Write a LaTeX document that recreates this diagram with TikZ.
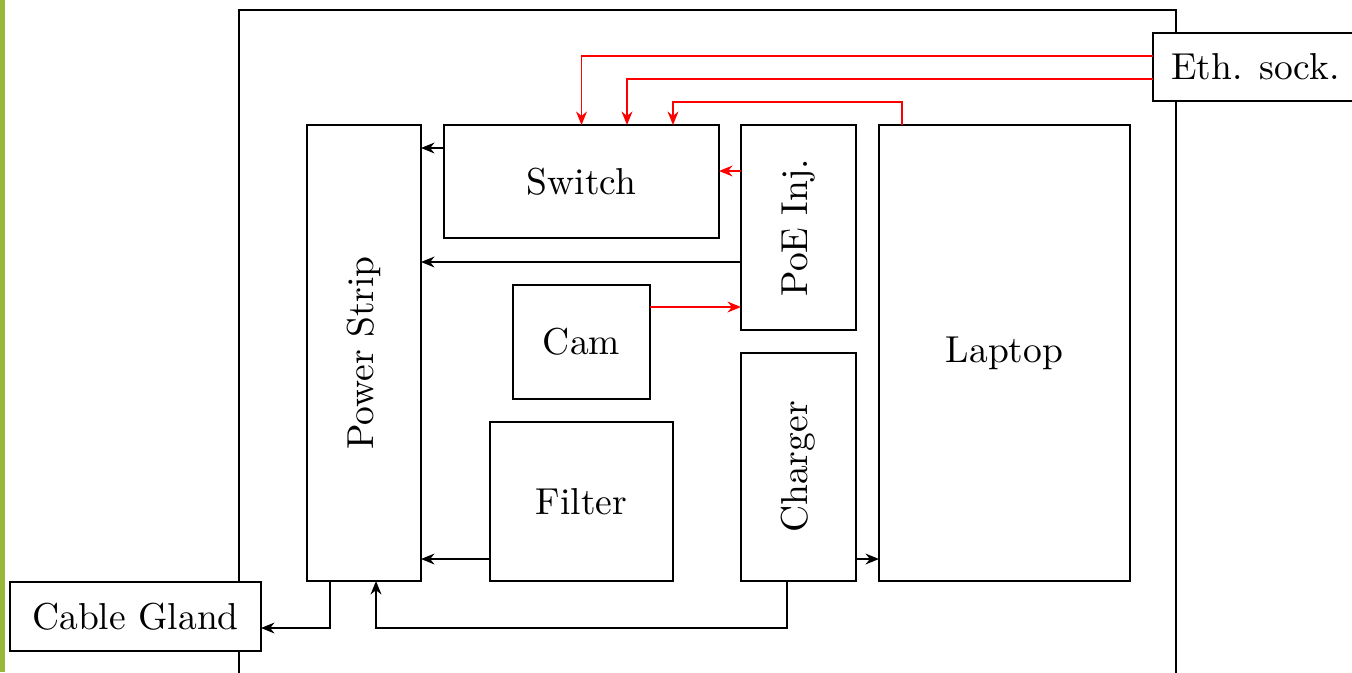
\documentclass[tikz,border=0pt]{standalone}
\usepackage{graphicx}
\usetikzlibrary{arrows.meta}
\definecolor{barg}{RGB}{153,184,58}
\def\pxu{0.2667pt}
\begin{document}
\begin{tikzpicture}[x=0.2667pt, y=-0.2667pt,
  box/.style={draw, inner sep=0pt, outer sep=0pt},
  arr/.style={-{Stealth[length=3.6pt,width=2.9pt]}},
  rarr/.style={-{Stealth[length=3.6pt,width=2.9pt]}, red}]
\useasboundingbox (0,0) rectangle (1352,672);
\clip (0,0) rectangle (1352,672);
\fill[barg] (0,0) rectangle (5,672);
\draw (239,10) rectangle (1176,720);
\node[box, minimum width=114*\pxu, minimum height=456*\pxu] (ps) at (364,353) {\rotatebox{90}{Power Strip}};
\node[box, minimum width=275*\pxu, minimum height=113*\pxu] (sw) at (581.5,181.5) {Switch};
\node[box, minimum width=115*\pxu, minimum height=205*\pxu] (poe) at (798.5,227.5) {\rotatebox{90}{PoE Inj.}};
\node[box, minimum width=251*\pxu, minimum height=456*\pxu] (lap) at (1004.5,353) {Laptop};
\node[box, minimum width=137*\pxu, minimum height=114*\pxu] (cam) at (581.5,342) {Cam};
\node[box, minimum width=183*\pxu, minimum height=159*\pxu] (fil) at (581.5,501.5) {Filter};
\node[box, minimum width=115*\pxu, minimum height=228*\pxu] (chg) at (798.5,467) {\rotatebox{90}{Charger}};
\node[box, fill=white, minimum width=251*\pxu, minimum height=69*\pxu] (cg) at (135.5,616.5) {Cable Gland};
\node[box, fill=white, minimum width=205*\pxu, minimum height=68*\pxu] (eth) at (1255.5,67) {Eth. sock.};
% red connectors
\draw[rarr] (eth.west |- 0,56) -| (sw.north);
\draw[rarr] (eth.west |- 0,79) -| (sw.north -| 627,0);
\draw[rarr] (lap.north -| 902,0) -- ++(0,-23) -| (sw.north -| 673,0);
\draw[rarr] (poe.west |- 0,171) -- (sw.east |- 0,171);
\draw[rarr] (cam.east |- 0,307) -- (poe.west |- 0,307);
% black connectors
\draw[arr] (sw.west |- 0,148) -- (ps.east |- 0,148);
\draw[arr] (poe.west |- 0,262) -- (ps.east |- 0,262);
\draw[arr] (fil.west |- 0,559) -- (ps.east |- 0,559);
\draw[arr] (chg.east |- 0,559) -- (lap.west |- 0,559);
\draw[arr] (ps.south -| 330,0) |- (cg.east |- 0,628);
\draw[arr] (chg.south -| 787,0) |- (376,628) -- (ps.south -| 376,0);
\end{tikzpicture}
\end{document}
